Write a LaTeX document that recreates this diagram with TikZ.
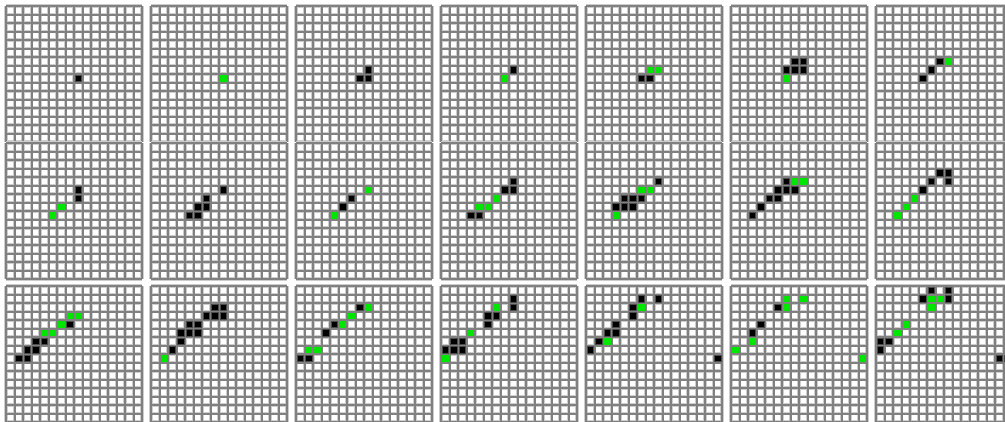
\documentclass[tikz,border=0pt]{standalone}
\definecolor{gridgray}{RGB}{128,128,128}
\definecolor{halo}{RGB}{205,205,205}
\definecolor{livegreen}{RGB}{0,230,0}
\tikzset{
  halo line/.style={draw=halo, line width=2.4pt},
  grid line/.style={draw=gridgray, line width=1.5pt},
  black cell/.style={fill=black, draw=black!70, line width=0.4pt},
  green cell/.style={fill=livegreen}
}
\newcommand\cellpanel[4]{%
  \begin{scope}[shift={(#1,#2)}]
    \fill[white] (0,0) rectangle (136,136);
    \foreach \k in {0,...,16} {
      \draw[halo line] (\k*8.5,0) -- (\k*8.5,136);
      \draw[halo line] (0,\k*8.5) -- (136,\k*8.5);
    }
    \foreach \k in {0,...,16} {
      \draw[grid line] (\k*8.5,0) -- (\k*8.5,136);
      \draw[grid line] (0,\k*8.5) -- (136,\k*8.5);
    }
    \def\blist{#3}\ifx\blist\empty\else
      \foreach \c/\r in {#3} \path[black cell] (\c*8.5+1.1,\r*8.5+1.1) rectangle ++(6.3,6.3);
    \fi
    \def\glist{#4}\ifx\glist\empty\else
      \foreach \c/\r in {#4} \path[green cell] (\c*8.5+1,\r*8.5+1) rectangle ++(6.5,6.5);
    \fi
  \end{scope}}
\begin{document}
\begin{tikzpicture}[x=0.75pt,y=-0.75pt]
\useasboundingbox (0,0) rectangle (1005,421);
\clip (0,0) rectangle (1005,421);
\fill[white] (0,0) rectangle (1005,421);
% row 1
\cellpanel{6}{6}{8/8}{}
\cellpanel{151}{6}{}{8/8}
\cellpanel{296}{6}{8/7,7/8,8/8}{}
\cellpanel{441}{6}{8/7}{7/8}
\cellpanel{586}{6}{6/8,7/8}{7/7,8/7}
\cellpanel{731}{6}{7/6,8/6,6/7,7/7,8/7}{6/8}
\cellpanel{876}{6}{7/6,6/7,5/8}{8/6}
% row 2
\cellpanel{6}{143}{8/5,8/6}{6/7,5/8}
\cellpanel{151}{143}{8/5,6/6,5/7,6/7,4/8,5/8}{}
\cellpanel{296}{143}{6/6,5/7}{8/5,4/8}
\cellpanel{441}{143}{8/4,7/5,8/5,3/8,4/8}{6/6,4/7,5/7}
\cellpanel{586}{143}{8/4,4/6,5/6,6/6,3/7,4/7,5/7}{6/5,7/5,3/8}
\cellpanel{731}{143}{6/4,5/5,6/5,7/5,4/6,5/6,3/7,2/8}{7/4,8/4}
\cellpanel{876}{143}{7/3,8/3,6/4,8/4,5/5}{4/6,3/7,2/8}
% row 3
\cellpanel{6}{286}{7/4,3/6,4/6,2/7,3/7,1/8,2/8}{7/3,8/3,6/4,4/5,5/5}
\cellpanel{151}{286}{7/2,8/2,6/3,7/3,8/3,4/4,5/4,3/5,4/5,5/5,3/6,2/7}{1/8}
\cellpanel{296}{286}{7/2,4/4,3/5,0/8,1/8}{8/2,6/3,5/4,1/7,2/7}
\cellpanel{441}{286}{8/1,8/2,5/3,6/3,5/4,1/6,2/6,0/7,1/7,2/7}{6/2,3/5,0/8}
\cellpanel{586}{286}{6/1,8/1,5/2,5/3,3/4,2/5,3/5,1/6,0/7,15/8}{6/2,2/6}
\cellpanel{731}{286}{5/2,3/4,2/5}{6/1,8/1,6/2,2/6,0/7,15/8}
\cellpanel{876}{286}{6/0,8/0,5/1,8/1,0/6,1/6,0/7,14/8,15/8}{6/1,7/1,6/2,3/4,2/5}
\end{tikzpicture}
\end{document}
